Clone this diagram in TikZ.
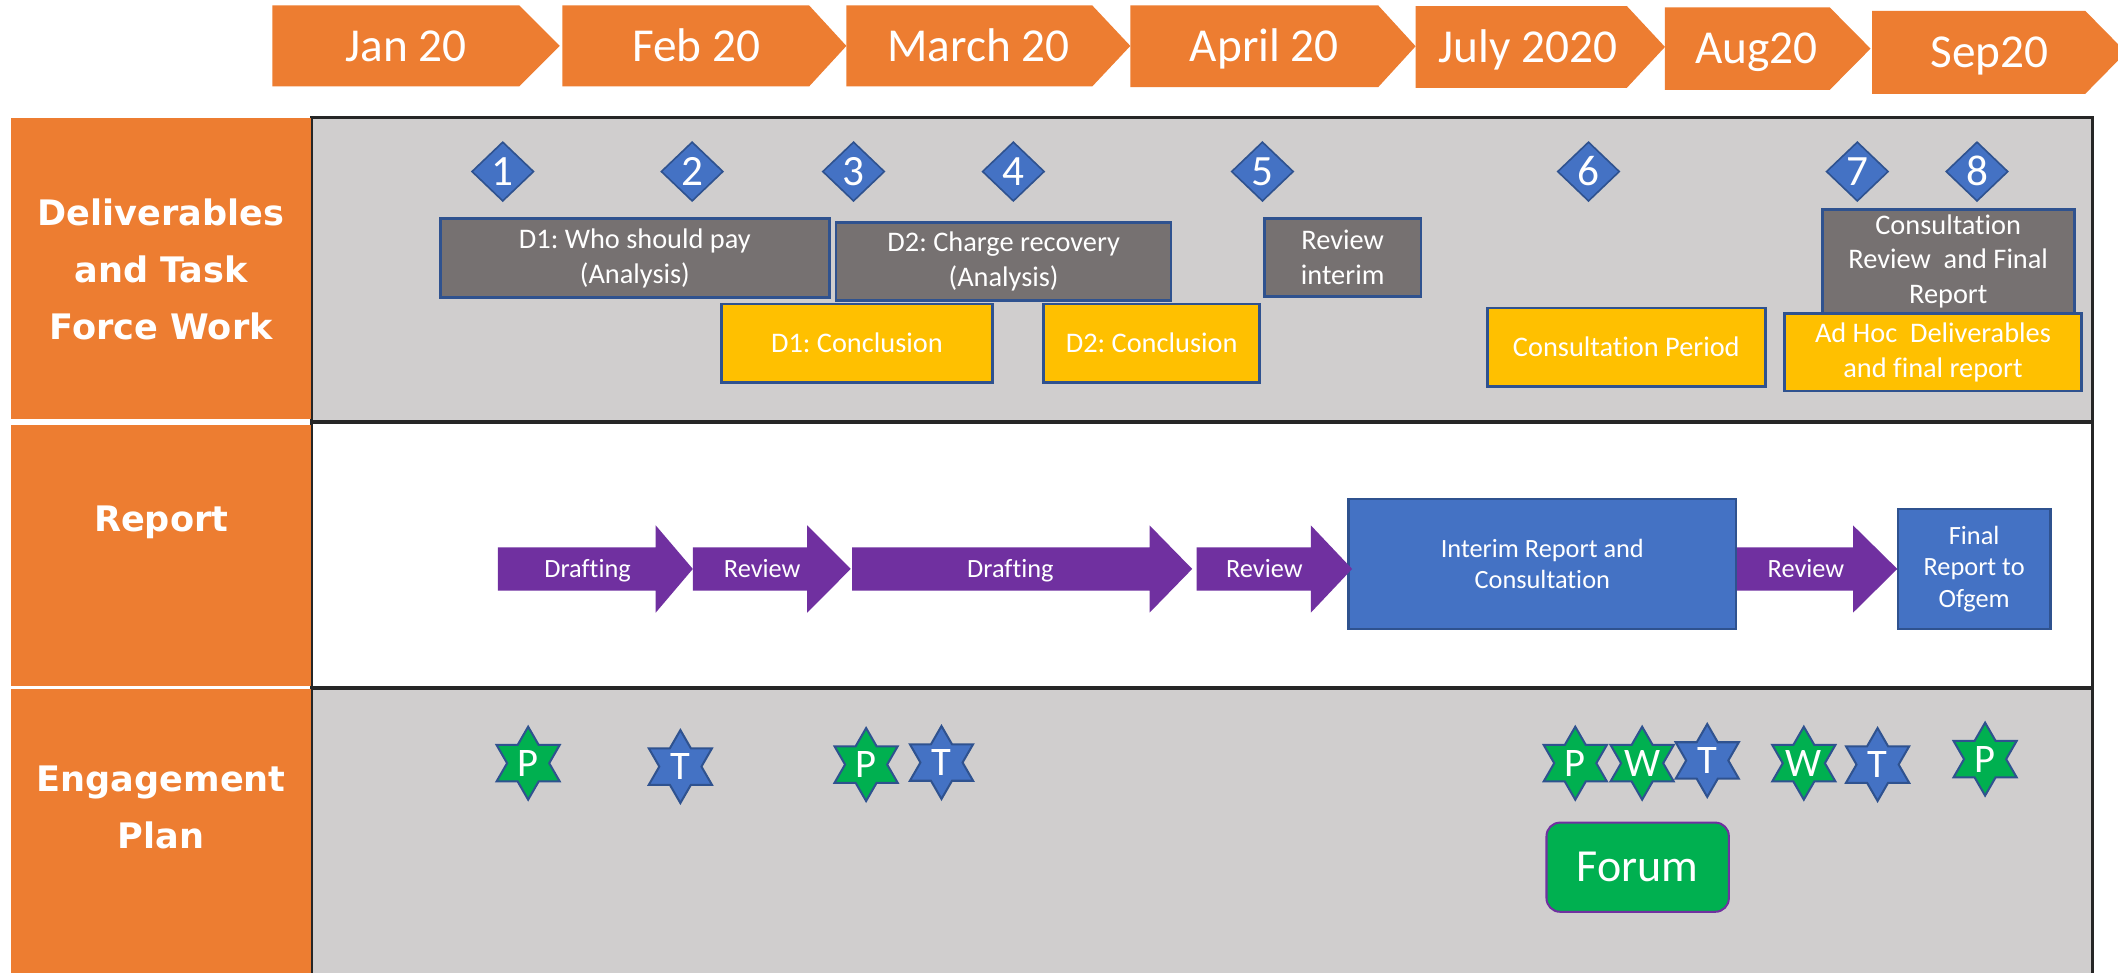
\documentclass[tikz,border=0pt]{standalone}
\usepackage{fontspec}
\setmainfont{Carlito}[Ligatures=CommonOff]
\newfontfamily\lblfont{DejaVu Sans}
\usetikzlibrary{shapes.geometric}
\definecolor{orng}{HTML}{ED7D31}
\definecolor{panelgrey}{HTML}{D0CECE}
\definecolor{boxgrey}{HTML}{767171}
\definecolor{gold}{HTML}{FFC000}
\definecolor{blu}{HTML}{4472C4}
\definecolor{bluedge}{HTML}{2F528F}
\definecolor{purp}{HTML}{7030A0}
\definecolor{grn}{HTML}{00B050}
\frenchspacing
\newcommand\ctr[1]{\raisebox{-0.32em}[0pt][0pt]{\makebox[0pt]{#1}}}
\newcommand\chevron[5]{\fill[orng] (#1,#4) -- (#2,#4) -- (#3,{(#4+#5)/2}) -- (#2,#5) -- (#1,#5) -- cycle;}
\newcommand\parrow[3]{\fill[purp] (#1,405.2) -- (#2,405.2) -- (#2,388.9) -- (#3,421.2) -- (#2,453.6) -- (#2,437.3) -- (#1,437.3) -- cycle;}
\begin{document}
\begin{tikzpicture}[x=1pt,y=-1pt,
  monthtxt/.style={text=white, font=\fontsize{35}{42}\selectfont, inner sep=0},
  lbl/.style={text=white, font=\lblfont\bfseries\fontsize{26}{42}\selectfont, align=center, inner sep=0},
  panel/.style={draw=black!85, line width=2pt},
  diam/.style={diamond, fill=blu, draw=bluedge, line width=1.2pt, minimum width=46pt, minimum height=44pt, inner sep=0, text=white, font=\fontsize{32}{36}\selectfont},
  taskbox/.style={draw=bluedge, line width=2pt, text=white, align=center, font=\fontsize{21}{26}\selectfont, inner sep=0},
  greybox/.style={taskbox, fill=boxgrey},
  goldbox/.style={taskbox, fill=gold},
  arrtxt/.style={text=white, font=\fontsize{19.5}{23.5}\selectfont, inner sep=0},
  repbox/.style={fill=blu, draw=bluedge, line width=1.5pt, text=white, align=center, font=\fontsize{19.5}{23.5}\selectfont, inner sep=0},
  starnode/.style={star, star points=6, star point ratio=1.732, minimum size=54pt, inner sep=0, draw=bluedge, line width=1.5pt, text=white, font=\fontsize{30}{34}\selectfont},
  pstar/.style={starnode, fill=grn},
  tstar/.style={starnode, fill=blu},
  forumbox/.style={rounded corners=10pt, fill=grn, draw=purp, line width=1.5pt, text=white, font=\fontsize{34}{40}\selectfont, minimum width=135pt, minimum height=66pt, inner sep=0}
]
\useasboundingbox (0,0) rectangle (1568,720);
\fill[white] (0,0) rectangle (1568,720);

% month chevrons
\chevron{201.7}{384.4}{414.4}{4}{64}
\chevron{416.4}{599}{626.6}{4}{64}
\chevron{626.6}{808.6}{836.8}{4}{64}
\chevron{836.8}{1020.3}{1048}{4}{64.5}
\chevron{1048}{1204.4}{1232.6}{4.5}{65}
\chevron{1232.6}{1354.6}{1384.8}{5.5}{66.5}
\chevron{1385.9}{1543.7}{1574}{8}{69.5}
\node[monthtxt] (m1) at (300.8,34) {\ctr{Jan 20}};
\node[monthtxt] (m2) at (515.5,34) {\ctr{Feb 20}};
\node[monthtxt] (m3) at (724.3,34) {\ctr{March 20}};
\node[monthtxt] (m4) at (936,34) {\ctr{April 20}};
\node[monthtxt] (m5) at (1131.3,35) {\ctr{July 2020}};
\node[monthtxt] (m6) at (1300.4,36) {\ctr{Aug20}};
\node[monthtxt] (m7) at (1473,39) {\ctr{Sep20}};

% panels
\draw[panel, fill=panelgrey] (230.5,87) rectangle (1549,312);
\draw[panel, fill=white] (230.5,313) rectangle (1549,508.5);
\draw[panel, fill=panelgrey] (230.5,509.5) rectangle (1549,730);

% row labels
\fill[orng] (8,87) rectangle (230,310);
\fill[orng] (8,314.5) rectangle (230,508);
\fill[orng] (8,510) rectangle (230,730);
\node[lbl] (l1) at (119.3,199.5) {Deliverables\\and Task\\Force Work};
\node[lbl] (l2) at (119.3,384.8) {\ctr{Report}};
\node[lbl] (l3) at (119.3,597.5) {Engagement\\Plan};

% milestones
\node[diam] (n1) at (372.2,127) {\ctr{1}};
\node[diam] (n2) at (512.4,127) {\ctr{2}};
\node[diam] (n3) at (631.9,127) {\ctr{3}};
\node[diam] (n4) at (750.2,127) {\ctr{4}};
\node[diam] (n5) at (934.6,127) {\ctr{5}};
\node[diam] (n6) at (1176,127) {\ctr{6}};
\node[diam] (n7) at (1375,127) {\ctr{7}};
\node[diam] (n8) at (1463.6,127) {\ctr{8}};

% deliverable boxes
\node[greybox, minimum width=288pt, minimum height=58pt] (d1) at (470,191) {D1: Who should pay\\(Analysis)};
\node[greybox, minimum width=248pt, minimum height=58pt] (d2) at (743,193.5) {D2: Charge recovery\\(Analysis)};
\node[greybox, minimum width=116pt, minimum height=58pt] (ri) at (994,190.6) {Review\\interim};
\node[goldbox, minimum width=200.7pt, minimum height=58pt] (c1) at (634.4,254) {D1: Conclusion};
\node[goldbox, minimum width=160pt, minimum height=58pt] (c2) at (852.6,254) {D2: Conclusion};
\node[goldbox, minimum width=206pt, minimum height=58pt] (cp) at (1204,257) {Consultation Period};
\node[greybox, minimum width=186.6pt, minimum height=77pt, font=\fontsize{21}{25.5}\selectfont] (cr) at (1442.3,193.5) {Consultation\\Review\ \ and Final\\Report};
\node[goldbox, minimum width=220pt, minimum height=57.5pt] (ah) at (1431,260.8) {Ad Hoc\ \ Deliverables\\and final report};

% report arrows
\parrow{368.5}{485.4}{512.9}
\parrow{512.9}{597.6}{629.8}
\parrow{630.8}{851}{882.6}
\node[repbox, minimum width=287pt, minimum height=96.3pt] (ir) at (1141.8,417.5) {Interim Report and\\Consultation};
\parrow{885.8}{970.4}{1001}
\parrow{1286}{1371.8}{1404.6}
\node[repbox, minimum width=113pt, minimum height=89pt] (fr) at (1461.5,421.2) {Final\\Report to\\Ofgem};
\node[arrtxt] (a1) at (435,421.2) {\ctr{Drafting}};
\node[arrtxt] (a2) at (564.3,421.2) {\ctr{Review}};
\node[arrtxt] (a3) at (748,421.2) {\ctr{Drafting}};
\node[arrtxt] (a4) at (936,421.2) {\ctr{Review}};
\node[arrtxt] (a5) at (1337,421.2) {\ctr{Review}};

% engagement stars
\node[pstar] (s1) at (391,565) {\ctr{P}};
\node[tstar] (s2) at (503.7,567.5) {\ctr{T}};
\node[pstar] (s3) at (641.2,566) {\ctr{P}};
\node[tstar] (s4) at (697,564.5) {\ctr{T}};
\node[pstar] (s5) at (1166.2,565) {\ctr{P}};
\node[pstar] (s6) at (1215.7,565) {\ctr{W}};
\node[tstar] (s7) at (1263.9,563) {\ctr{T}};
\node[pstar] (s8) at (1335.4,565) {\ctr{W}};
\node[tstar] (s9) at (1390,566) {\ctr{T}};
\node[pstar] (s10) at (1469.6,562) {\ctr{P}};
\node[forumbox] (fo) at (1212.4,642) {\ctr{Forum}};
\end{tikzpicture}
\end{document}
